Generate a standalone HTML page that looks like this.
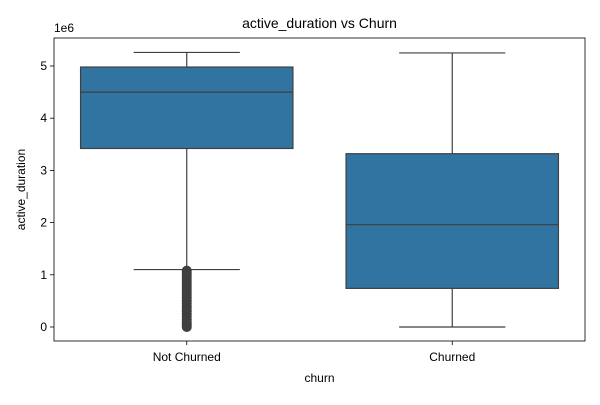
<!DOCTYPE html>
<html><head><meta charset="utf-8"><style>
body{margin:0;background:#fff;font-family:"Liberation Sans",sans-serif}
</style></head><body>
<svg id="c" width="600" height="400" xmlns="http://www.w3.org/2000/svg" font-family="Liberation Sans, sans-serif"></svg>
<script>
const categories=["Not Churned","Churned"];
const q1=[3.42,0.74];
const medians=[4.5,1.96];
const q3=[4.98,3.32];
const whiskerLow=[1.1,0];
const whiskerHigh=[5.26,5.25];
const outliers0=[0,0.03,0.06,0.1,0.15,0.2,0.25,0.3,0.35,0.4,0.45,0.5,0.55,0.6,0.65,0.7,0.75,0.8,0.85,0.9,0.95,1.0,1.05,1.08];
const yTicks=[0,1,2,3,4,5];
const NS="http://www.w3.org/2000/svg";
const svg=document.getElementById('c');
const L=54,R=585,T=38,B=341;
const y=v=>327-v*52.2;
const xc=i=>L+(R-L)*(i+0.5)/categories.length;
const bw=(R-L)/categories.length*0.8;
function mk(t,a,p){const e=document.createElementNS(NS,t);for(const k in a)e.setAttribute(k,a[k]);(p||svg).appendChild(e);return e;}
let e;
e=mk('rect',{x:L,y:T,width:R-L,height:B-T,fill:'none',stroke:'#000','stroke-width':0.8});

yTicks.forEach(v=>{
 e=mk('line',{x1:L-4,x2:L,y1:y(v),y2:y(v),stroke:'#000','stroke-width':0.8});
 
 e=mk('text',{x:L-7,y:y(v)+4,'text-anchor':'end','font-size':12});e.textContent=v;
 
});
e=mk('text',{x:L,y:32,'font-size':12});e.textContent='1e6';

categories.forEach((c,i)=>{
 const x=xc(i);
 const g=mk('g',{});
 mk('line',{x1:x,x2:x,y1:y(q3[i]),y2:y(whiskerHigh[i]),stroke:'#3f3f3f','stroke-width':1.2},g);
 mk('line',{x1:x,x2:x,y1:y(q1[i]),y2:y(whiskerLow[i]),stroke:'#3f3f3f','stroke-width':1.2},g);
 mk('line',{x1:x-bw/4,x2:x+bw/4,y1:y(whiskerHigh[i]),y2:y(whiskerHigh[i]),stroke:'#3f3f3f','stroke-width':1.2},g);
 mk('line',{x1:x-bw/4,x2:x+bw/4,y1:y(whiskerLow[i]),y2:y(whiskerLow[i]),stroke:'#3f3f3f','stroke-width':1.2},g);
 mk('rect',{x:x-bw/2,y:y(q3[i]),width:bw,height:y(q1[i])-y(q3[i]),fill:'#3274a1',stroke:'#3f3f3f','stroke-width':1.2},g);
 mk('line',{x1:x-bw/2,x2:x+bw/2,y1:y(medians[i]),y2:y(medians[i]),stroke:'#3f3f3f','stroke-width':1.2},g);
 e=mk('line',{x1:x,x2:x,y1:B,y2:B+4,stroke:'#000','stroke-width':0.8});
 
 e=mk('text',{x:x,y:B+20,'text-anchor':'middle','font-size':12});e.textContent=c;
 
});
outliers0.forEach(v=>{
 e=mk('circle',{cx:xc(0),cy:y(v),r:5,fill:'#3f3f3f'});
 
});
e=mk('text',{x:(L+R)/2,y:28,'text-anchor':'middle','font-size':14});e.textContent='active_duration vs Churn';

e=mk('text',{x:(L+R)/2,y:382,'text-anchor':'middle','font-size':12});e.textContent='churn';

e=mk('text',{x:25,y:(T+B)/2,'text-anchor':'middle','font-size':12,transform:`rotate(-90 25 ${(T+B)/2})`});e.textContent='active_duration';

</script>
</body></html>
